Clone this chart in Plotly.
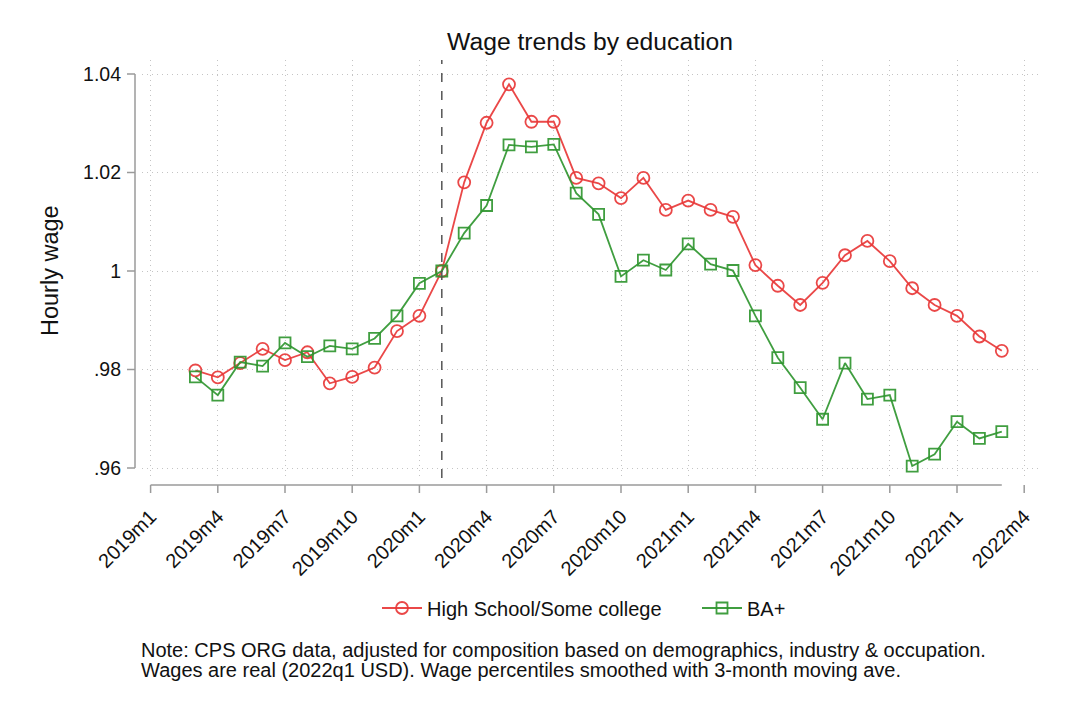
import plotly.graph_objects as go

# ---------------- data ----------------
months = ["2019m3", "2019m4", "2019m5", "2019m6", "2019m7", "2019m8", "2019m9", "2019m10",
          "2019m11", "2019m12", "2020m1", "2020m2", "2020m3", "2020m4", "2020m5", "2020m6",
          "2020m7", "2020m8", "2020m9", "2020m10", "2020m11", "2020m12", "2021m1", "2021m2",
          "2021m3", "2021m4", "2021m5", "2021m6", "2021m7", "2021m8", "2021m9", "2021m10",
          "2021m11", "2021m12", "2022m1", "2022m2", "2022m3"]
hs_wage = [0.9798, 0.9784, 0.9813, 0.9842, 0.9819, 0.9835, 0.9772, 0.9785,
           0.9804, 0.9878, 0.9909, 1.0000, 1.0180, 1.0301, 1.0379, 1.0303,
           1.0303, 1.0189, 1.0178, 1.0148, 1.0189, 1.0124, 1.0143, 1.0124,
           1.0110, 1.0012, 0.9970, 0.9931, 0.9976, 1.0032, 1.0061, 1.0020,
           0.9965, 0.9931, 0.9909, 0.9867, 0.9838]
ba_wage = [0.9785, 0.9748, 0.9815, 0.9807, 0.9854, 0.9826, 0.9848, 0.9842,
           0.9863, 0.9909, 0.9975, 1.0000, 1.0077, 1.0133, 1.0256, 1.0252,
           1.0257, 1.0158, 1.0115, 0.9989, 1.0022, 1.0002, 1.0055, 1.0014,
           1.0001, 0.9909, 0.9824, 0.9763, 0.9699, 0.9813, 0.9740, 0.9748,
           0.9604, 0.9628, 0.9694, 0.9660, 0.9674]
x_tick_labels = ["2019m1", "2019m4", "2019m7", "2019m10", "2020m1", "2020m4", "2020m7",
                 "2020m10", "2021m1", "2021m4", "2021m7", "2021m10", "2022m1", "2022m4"]
y_tick_vals = [0.96, 0.98, 1.00, 1.02, 1.04]
y_tick_text = [".96", ".98", "1", "1.02", "1.04"]
event_month = "2020m2"
series_names = ["High School/Some college", "BA+"]
title_text = "Wage trends by education"
ytitle_text = "Hourly wage"
note_lines = ["Note: CPS ORG data, adjusted for composition based on demographics, industry & occupation.",
              "Wages are real (2022q1 USD). Wage percentiles smoothed with 3-month moving ave."]


def mindex(s):
    y, m = s.split("m")
    return (int(y) - 2019) * 12 + int(m) - 1


xm = [mindex(s) for s in months]
xt = [mindex(s) for s in x_tick_labels]

FONT = "Liberation Sans, Arial, sans-serif"
RED = "rgba(232,56,56,0.92)"
GREEN = "rgba(48,150,48,0.92)"
AX = "#9a9a9a"
GRID = "#c4c4c4"

fig = go.Figure()
fig.add_trace(go.Scatter(x=xm, y=hs_wage, mode="lines+markers", name=series_names[0],
                         line=dict(color=RED, width=1.8),
                         marker=dict(symbol="circle-open", size=12, color=RED, line=dict(width=1.8))))
fig.add_trace(go.Scatter(x=xm, y=ba_wage, mode="lines+markers", name=series_names[1],
                         line=dict(color=GREEN, width=1.8),
                         marker=dict(symbol="square-open", size=11, color=GREEN, line=dict(width=1.8))))

W, H = 1065, 710
L, R, T, B = 142, 1038, 60, 478
pw, ph = R - L, B - T

# vertical event line
ev = mindex(event_month)
fig.add_shape(type="line", xref="x", yref="paper", x0=ev, x1=ev, y0=0, y1=1,
              line=dict(color="#555555", width=1.5, dash="dash"))

# offset axis lines (Stata style)
ax_y = -(485 - B) / ph
fig.add_shape(type="line", xref="x", yref="paper", x0=xt[0], x1=xm[-1], y0=ax_y, y1=ax_y,
              line=dict(color=AX, width=1.5))
for t in xt:
    fig.add_shape(type="line", xref="x", yref="paper", x0=t, x1=t, y0=ax_y, y1=-(493 - B) / ph,
                  line=dict(color=AX, width=1.5))
ax_x = -(L - 135) / pw
fig.add_shape(type="line", xref="paper", yref="y", x0=ax_x, x1=ax_x, y0=y_tick_vals[0], y1=y_tick_vals[-1],
              line=dict(color=AX, width=1.5))
for v in y_tick_vals:
    fig.add_shape(type="line", xref="paper", yref="y", x0=-(L - 127) / pw, x1=ax_x, y0=v, y1=v,
                  line=dict(color=AX, width=1.5))

x0 = (L - 150.6) / 22.4
x1 = (R - 150.6) / 22.4
y0 = 0.96 - (B - 468) / 4925
y1 = 1.04 + (74 - T) / 4925

fig.update_xaxes(range=[x0, x1], tickvals=xt, ticktext=x_tick_labels, tickangle=-45,
                 showgrid=True, gridcolor=GRID, griddash="1px,4px", gridwidth=1,
                 zeroline=False, showline=False, ticks="", ticklabelstandoff=22,
                 tickfont=dict(family=FONT, size=20, color="#111"))
fig.update_yaxes(range=[y0, y1], tickvals=y_tick_vals, ticktext=y_tick_text,
                 showgrid=True, gridcolor=GRID, griddash="1px,4px", gridwidth=1,
                 zeroline=False, showline=False, ticks="", ticklabelstandoff=20,
                 tickfont=dict(family=FONT, size=19.5, color="#111"))

fig.add_annotation(text=ytitle_text, xref="paper", yref="paper",
                   x=(50 - L) / pw, y=(B - 271) / ph, textangle=-90, showarrow=False,
                   xanchor="center", yanchor="middle", font=dict(family=FONT, size=23.5, color="#111"))
for i, line in enumerate(note_lines):
    fig.add_annotation(text=line, xref="paper", yref="paper", x=(139 - L) / pw, y=(B - (650 + 20 * i)) / ph,
                       xanchor="left", yanchor="middle", align="left", showarrow=False,
                       font=dict(family=FONT, size=20, color="#111"))

fig.update_layout(
    width=W, height=H, margin=dict(l=L, r=W - R, t=T, b=H - B, pad=0),
    paper_bgcolor="white", plot_bgcolor="white",
    title=dict(text=title_text, x=(L + pw / 2) / W, xanchor="center", y=1 - 41 / H, yanchor="middle",
               font=dict(family=FONT, size=24.7, color="#111")),
    legend=dict(orientation="h", x=(377 - L) / pw, xanchor="left", y=(B - 608) / ph, yanchor="middle",
                font=dict(family=FONT, size=20, color="#111"), itemwidth=40, bgcolor="rgba(0,0,0,0)",
                entrywidth=265, entrywidthmode="pixels"),
    showlegend=True,
)

fig.write_html("out.html")
